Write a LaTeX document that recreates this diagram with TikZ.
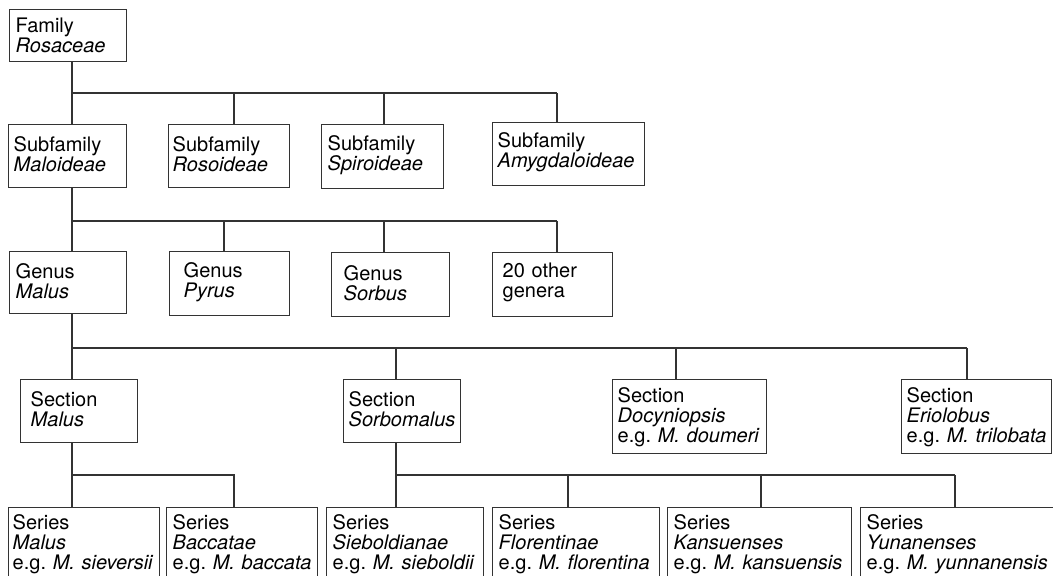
\documentclass[tikz,border=0pt]{standalone}
\usepackage{fontspec}
\setmainfont{TeX Gyre Heros}
\frenchspacing
\hyphenpenalty=10000
\exhyphenpenalty=10000
\tikzset{
  taxon/.style n args={3}{draw=black!80, line width=1.1pt, anchor=north west, align=left,
    inner ysep=0pt, inner xsep=#3*0.75pt, text width=(#1-2*#3)*0.75pt,
    minimum height=#2*0.75pt, font=\fontsize{15}{15}\selectfont, text=black},
  link/.style={draw=black!80, line width=0.9pt}
}
\begin{document}
\begin{tikzpicture}[x=0.75pt,y=-0.75pt]
\useasboundingbox (0,0) rectangle (1053,575);
\clip (0,0) rectangle (1053,575);
% family and subfamilies
\node[taxon={117}{52}{6}] (fam) at (9,9) {Family\\\textit{Rosaceae}};
\node[taxon={118}{63}{5}] (maloid) at (8,124) {Subfamily\\\textit{Maloideae}\vspace{3pt}};
\node[taxon={121}{63}{4}] (rosoid) at (168,124) {Subfamily\\\textit{Rosoideae}\vspace{3pt}};
\node[taxon={122}{64}{6}] (spiroid) at (321,124) {Subfamily\\\textit{Spiroideae}\vspace{3pt}};
\node[taxon={152}{63}{5}] (amygd) at (492,122) {Subfamily\\\textit{Amygdaloideae}\vspace{3pt}};
% genera
\node[taxon={117}{62}{6}] (gmalus) at (9,251) {Genus\\\textit{Malus}\vspace{3pt}};
\node[taxon={120}{64}{14}] (gpyrus) at (169,251) {Genus\\\textit{Pyrus}\vspace{3pt}};
\node[taxon={118}{64}{12}] (gsorbus) at (331,252) {Genus\\\textit{Sorbus}\vspace{3pt}};
\node[taxon={120}{64}{10}] (gother) at (492,252) {20 other\\genera\vspace{3pt}};
% sections
\node[taxon={117}{63}{10}] (smalus) at (20,379) {Section\\\textit{Malus}\vspace{3pt}};
\node[taxon={117}{63}{5}] (ssorbo) at (343,379) {Section\\\textit{Sorbomalus}\vspace{3pt}};
\node[taxon={154}{74}{5}] (sdocy) at (612,379) {Section\\\textit{Docyniopsis}\\e.g. \textit{M. doumeri}};
\node[taxon={150}{74}{5}] (serio) at (901,379) {Section\\\textit{Eriolobus}\\e.g. \textit{M. trilobata}};
% series
\node[taxon={151}{72}{4}] (ser1) at (8,507) {Series\\\textit{Malus}\\e.g. \textit{M. sieversii}};
\node[taxon={151}{72}{6}] (ser2) at (166,507) {Series\\\textit{Baccatae}\\e.g. \textit{M. baccata}};
\node[taxon={157}{72}{6}] (ser3) at (326,507) {Series\\\textit{Sieboldianae}\\e.g. \textit{M. sieboldii}};
\node[taxon={167}{72}{6}] (ser4) at (492,507) {Series\\\textit{Florentinae}\\e.g. \textit{M. florentina}};
\node[taxon={184}{72}{6}] (ser5) at (667,507) {Series\\\textit{Kansuenses}\\e.g. \textit{M. kansuensis}};
\node[taxon={200}{72}{6}] (ser6) at (860,507) {Series\\\textit{Yunanenses}\\e.g. \textit{M. yunnanensis}};
% links
\draw[link] (fam.south -| 72,0) -- (maloid.north -| 72,0);
\draw[link] (72,93) -- (557,93);
\foreach \n/\x in {rosoid/234,spiroid/384,amygd/557}
  \draw[link] (\x,93) -- (\n.north -| \x,0);
\draw[link] (maloid.south -| 72,0) -- (gmalus.north -| 72,0);
\draw[link] (72,221) -- (557,221);
\foreach \n/\x in {gpyrus/224,gsorbus/384,gother/557}
  \draw[link] (\x,221) -- (\n.north -| \x,0);
\draw[link] (gmalus.south -| 72,0) -- (smalus.north -| 72,0);
\draw[link] (72,348) -- (967,348);
\foreach \n/\x in {ssorbo/396,sdocy/676,serio/967}
  \draw[link] (\x,348) -- (\n.north -| \x,0);
\draw[link] (smalus.south -| 72,0) -- (ser1.north -| 72,0);
\draw[link] (72,475) -- (234,475) -- (ser2.north -| 234,0);
\draw[link] (ssorbo.south -| 396,0) -- (ser3.north -| 396,0);
\draw[link] (396,475) -- (955,475);
\foreach \n/\x in {ser4/568,ser5/761,ser6/955}
  \draw[link] (\x,475) -- (\n.north -| \x,0);
\end{tikzpicture}
\end{document}
